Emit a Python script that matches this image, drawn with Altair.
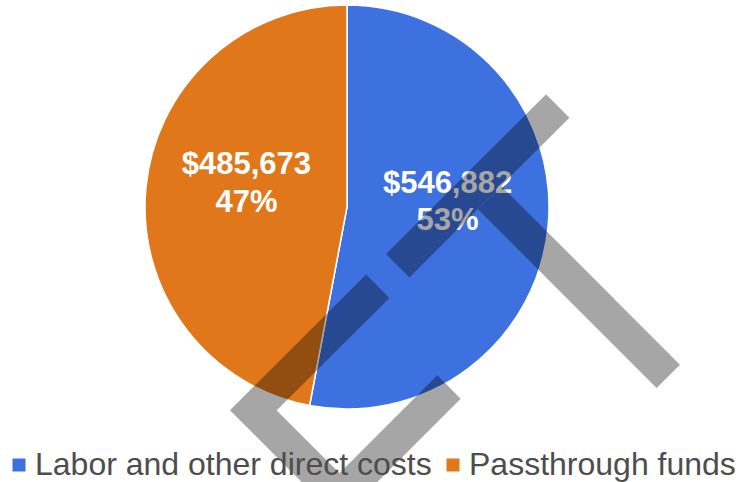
import altair as alt
import pandas as pd

# ---- chart data ----
categories = ["Labor and other direct costs", "Passthrough funds"]
amounts = [546882, 485673]
amount_labels = ["$546,882", "$485,673"]
percent_labels = ["53%", "47%"]
colors = ["#3d71df", "#e0781b"]

# ---- grey watermark overlay (pixel space polylines) ----
wm_seg = ["a", "a", "b", "b", "c", "c", "c", "c"]
wm_x = [557.7, 397.7, 489.6, 668.3, 377.8, 253.3, 339.5, 449.0]
wm_y = [106.0, 265.7, 197.6, 376.3, 286.2, 410.3, 496.5, 387.0]
wm_order = [0, 1, 0, 1, 0, 1, 2, 3]

W, H = 743, 482
FONT = "Liberation Sans, Arial, sans-serif"

df = pd.DataFrame({
    "category": categories,
    "amount": amounts,
    "label": [a + "\n" + p for a, p in zip(amount_labels, percent_labels)],
    "idx": list(range(len(categories))),
})
wm_df = pd.DataFrame({"seg": wm_seg, "px": wm_x, "py": wm_y, "ord": wm_order})

base = alt.Chart(df).encode(
    theta=alt.Theta("amount:Q", stack=True),
    order=alt.Order("idx:Q"),
)

pie = base.mark_arc(outerRadius=202, stroke="white", strokeWidth=1.5).encode(
    x=alt.value(347),
    y=alt.value(207),
    color=alt.Color(
        "category:N",
        scale=alt.Scale(domain=categories, range=colors),
        legend=alt.Legend(
            title=None,
            orient="none",
            legendX=3,
            legendY=449,
            padding=0,
            direction="horizontal",
            symbolType="square",
            symbolSize=169,
            symbolStrokeWidth=0,
            symbolOpacity=1,
            labelFontSize=32,
            labelFont=FONT,
            labelColor="#4d4d4d",
            labelOffset=0,
            labelLimit=0,
            columnPadding=5,
        ),
    ),
)

labels = base.mark_text(
    radius=101,
    dy=-32.5,
    font=FONT,
    fontWeight="bold",
    fontSize=31,
    color="white",
    lineBreak="\n",
    lineHeight=37.5,
    align="center",
    baseline="middle",
).encode(
    x=alt.value(347),
    y=alt.value(207),
    text="label:N",
)

watermark = alt.Chart(wm_df).mark_line(
    strokeWidth=33,
    strokeCap="butt",
    strokeJoin="miter",
    color="black",
    strokeOpacity=0.35,
    clip=False,
).encode(
    x=alt.X("px:Q", scale=alt.Scale(domain=[0, W], nice=False, zero=False), axis=None),
    y=alt.Y("py:Q", scale=alt.Scale(domain=[0, H], nice=False, zero=False, reverse=True), axis=None),
    detail="seg:N",
    order="ord:Q",
)

chart = alt.layer(pie, labels, watermark).properties(
    width=W,
    height=H,
    padding=0,
    autosize=alt.AutoSizeParams(type="none"),
    background="white",
).configure_view(stroke=None)

chart.save("out.html", embed_options={"renderer": "svg", "actions": False})
